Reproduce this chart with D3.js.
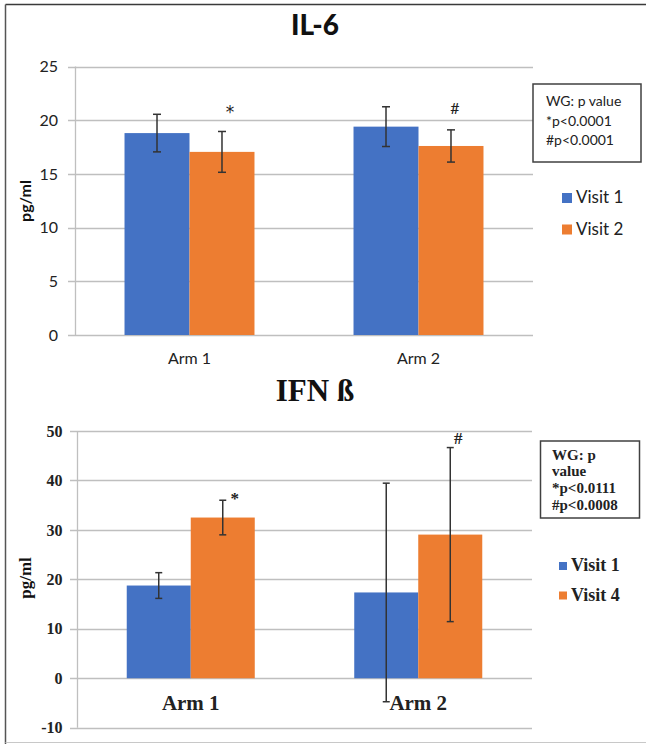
<!DOCTYPE html>
<html>
<head>
<meta charset="utf-8">
<script src="https://cdn.jsdelivr.net/npm/d3@7"></script>
<style>
  html, body { margin: 0; padding: 0; background: #fff; }
  svg { display: block; }
</style>
</head>
<body>
<svg id="chart" width="646" height="744"></svg>
<script>
// ---------- DATA ----------
const categories = ["Arm 1", "Arm 2"];

const il6Series = ["Visit 1", "Visit 2"];
const il6Visit1 = [18.8, 19.4];
const il6Visit2 = [17.05, 17.6];
const il6Err1 = [1.75, 1.85];
const il6Err2 = [1.9, 1.5];
const il6Ticks = [0, 5, 10, 15, 20, 25];
const il6Marks = ["*", "#"];
const il6Notes = ["WG: p value", "*p<0.0001", "#p<0.0001"];

const ifnSeries = ["Visit 1", "Visit 4"];
const ifnVisit1 = [18.75, 17.35];
const ifnVisit4 = [32.5, 29.05];
const ifnErr1 = [2.6, 22.1];
const ifnErr4 = [3.5, 17.6];
const ifnTicks = [-10, 0, 10, 20, 30, 40, 50];
const ifnMarks = ["*", "#"];
const ifnNotes = ["WG: p", "value", "*p<0.0111", "#p<0.0008"];

const colors = ["#4472C4", "#ED7D31"];

// ---------- DRAW ----------
const svg = d3.select("#chart");

// outer frame
svg.append("line").attr("x1", 5.5).attr("x2", 646).attr("y1", 4.5).attr("y2", 4.5)
  .attr("stroke", "#3a3a3a").attr("stroke-width", 1.5);
svg.append("line").attr("x1", 5.5).attr("x2", 5.5).attr("y1", 4.5).attr("y2", 744)
  .attr("stroke", "#555").attr("stroke-width", 1.5);
svg.append("line").attr("x1", 5.5).attr("x2", 646).attr("y1", 742.5).attr("y2", 742.5)
  .attr("stroke", "#c8c8c8").attr("stroke-width", 1.2);

function drawChart(cfg) {
  const g = svg.append("g");
  const y = d3.scaleLinear().domain(cfg.domain).range(cfg.yRange);
  const x0 = d3.scaleBand().domain(categories).range(cfg.xRange).padding(0);
  const x1 = d3.scaleBand().domain(cfg.series).range([0, x0.bandwidth()])
    .paddingInner(0).paddingOuter(cfg.outerPad);

  // gridlines (with outside tick marks)
  g.append("g").selectAll("line").data(cfg.ticks).join("line")
    .attr("x1", cfg.xRange[0] - 7).attr("x2", cfg.xRange[1])
    .attr("y1", d => Math.round(y(d)) + 0.5).attr("y2", d => Math.round(y(d)) + 0.5)
    .attr("stroke", "#bfbfbf").attr("stroke-width", 1.3);

  // vertical axis line
  g.append("line")
    .attr("x1", cfg.xRange[0] + 0.5).attr("x2", cfg.xRange[0] + 0.5)
    .attr("y1", y(cfg.domain[1])).attr("y2", y(cfg.domain[0]))
    .attr("stroke", "#bfbfbf").attr("stroke-width", 1.3);

  // y tick labels
  g.append("g").selectAll("text").data(cfg.ticks).join("text")
    .attr("x", cfg.tickX).attr("y", d => y(d))
    .attr("dy", "0.35em").attr("text-anchor", "end")
    .attr("font-family", cfg.font).attr("font-weight", cfg.tickWeight)
    .attr("font-size", cfg.tickSize).attr("fill", "#222")
    .text(d => d);

  // bars
  const rows = categories.map((c, i) => ({
    cat: c,
    vals: cfg.series.map((s, j) => ({ s, j, v: cfg.values[j][i], e: cfg.errors[j][i] }))
  }));
  const grp = g.append("g").selectAll("g").data(rows).join("g")
    .attr("transform", d => `translate(${x0(d.cat)},0)`);
  grp.selectAll("rect").data(d => d.vals).join("rect")
    .attr("x", d => x1(d.s)).attr("width", x1.bandwidth())
    .attr("y", d => y(d.v)).attr("height", d => y(0) - y(d.v))
    .attr("fill", d => colors[d.j]);

  // error bars
  const eb = grp.selectAll("g.eb").data(d => d.vals).join("g").attr("class", "eb")
    .attr("stroke", "#333").attr("stroke-width", 1.5);
  const cx = d => x1(d.s) + x1.bandwidth() / 2;
  eb.append("line").attr("x1", cx).attr("x2", cx)
    .attr("y1", d => y(d.v + d.e)).attr("y2", d => y(d.v - d.e));
  eb.append("line").attr("x1", d => cx(d) - cfg.cap).attr("x2", d => cx(d) + cfg.cap)
    .attr("y1", d => y(d.v + d.e)).attr("y2", d => y(d.v + d.e));
  eb.append("line").attr("x1", d => cx(d) - cfg.cap).attr("x2", d => cx(d) + cfg.cap)
    .attr("y1", d => y(d.v - d.e)).attr("y2", d => y(d.v - d.e));

  // significance marks above 2nd series
  grp.append("text")
    .attr("x", (d, i) => x1(cfg.series[1]) + x1.bandwidth() / 2 + cfg.markDx[i])
    .attr("y", (d, i) => y(d.vals[1].v + d.vals[1].e) + cfg.markDy[i])
    .attr("text-anchor", "middle")
    .attr("font-family", (d, i) => cfg.markFont[i]).attr("font-weight", cfg.tickWeight)
    .attr("font-size", (d, i) => cfg.markSize[i]).attr("fill", "#222")
    .text((d, i) => cfg.marks[i]);

  // category labels
  g.append("g").selectAll("text").data(categories).join("text")
    .attr("x", d => x0(d) + x0.bandwidth() / 2).attr("y", cfg.catY)
    .attr("text-anchor", "middle")
    .attr("font-family", cfg.font).attr("font-weight", cfg.tickWeight)
    .attr("font-size", cfg.catSize).attr("fill", "#222")
    .text(d => d);

  // title
  g.append("text").attr("x", 315).attr("y", cfg.titleY).attr("text-anchor", "middle")
    .attr("font-family", cfg.font).attr("font-weight", cfg.titleWeight)
    .attr("font-size", cfg.titleSize).attr("fill", "#111").text(cfg.title);

  // y axis label
  g.append("text")
    .attr("transform", `translate(${cfg.ylabX},${cfg.ylabY}) rotate(-90)`)
    .attr("text-anchor", "middle").attr("dy", "0.35em")
    .attr("font-family", cfg.font).attr("font-weight", "bold")
    .attr("font-size", cfg.ylabSize).attr("fill", "#111").text("pg/ml");

  // notes box
  const nb = cfg.noteBox;
  g.append("rect").attr("x", nb.x).attr("y", nb.y).attr("width", nb.w).attr("height", nb.h)
    .attr("fill", "#fff").attr("stroke", "#404040").attr("stroke-width", 1.5);
  g.append("g").selectAll("text").data(cfg.notes).join("text")
    .attr("x", nb.tx).attr("y", (d, i) => nb.ty + i * nb.lh)
    .attr("font-family", cfg.font).attr("font-weight", cfg.tickWeight)
    .attr("font-size", nb.size).attr("fill", "#222").text(d => d);

  // legend
  const lg = cfg.legend;
  const li = g.append("g").selectAll("g").data(cfg.series).join("g")
    .attr("transform", (d, i) => `translate(${lg.x},${lg.y + i * lg.dy})`);
  li.append("rect").attr("x", 0).attr("y", -lg.sq).attr("width", lg.sq).attr("height", lg.sq)
    .attr("fill", (d, i) => colors[i]);
  li.append("text").attr("x", lg.sq + 4).attr("y", 0).attr("dy", lg.textDy)
    .attr("font-family", cfg.font).attr("font-weight", cfg.tickWeight)
    .attr("font-size", lg.size).attr("fill", "#222").text(d => d);
}

drawChart({
  title: "IL-6", titleY: 35, titleSize: 28, titleWeight: 900,
  font: "Lato, 'Open Sans', sans-serif", tickWeight: "normal",
  series: il6Series, values: [il6Visit1, il6Visit2], errors: [il6Err1, il6Err2],
  ticks: il6Ticks, domain: [0, 25], yRange: [335, 66.5],
  xRange: [75, 533], outerPad: 0.762, cap: 4,
  tickX: 58, tickSize: 16,
  marks: il6Marks, markDx: [8, 4], markDy: [-13, -16],
  markSize: [17, 16], markFont: ["'DejaVu Sans', sans-serif", "Lato, sans-serif"],
  catY: 364, catSize: 16,
  ylabX: 25, ylabY: 201, ylabSize: 16,
  notes: il6Notes,
  noteBox: { x: 533, y: 84, w: 108, h: 78, tx: 546, ty: 106, lh: 19.5, size: 14 },
  legend: { x: 562, y: 203, dy: 31.5, sq: 10, textDy: 0, size: 17 }
});

drawChart({
  title: "IFN ß", titleY: 401, titleSize: 31, titleWeight: "bold",
  font: "'Liberation Serif', 'Times New Roman', serif", tickWeight: "bold",
  series: ifnSeries, values: [ifnVisit1, ifnVisit4], errors: [ifnErr1, ifnErr4],
  ticks: ifnTicks, domain: [-10, 50], yRange: [727.7, 431],
  xRange: [77, 532], outerPad: 0.777, cap: 3.5,
  tickX: 62.5, tickSize: 16,
  marks: ifnMarks, markDx: [12, 8], markDy: [3.5, -3.5],
  markSize: [17, 17], markFont: ["'Liberation Serif', serif", "'Liberation Serif', serif"],
  catY: 710, catSize: 21,
  ylabX: 25, ylabY: 578, ylabSize: 17,
  notes: ifnNotes,
  noteBox: { x: 540.5, y: 441, w: 99, h: 77, tx: 552, ty: 459.5, lh: 16.7, size: 15 },
  legend: { x: 559, y: 570, dy: 29.5, sq: 8, textDy: 1, size: 18 }
});
</script>
</body>
</html>
